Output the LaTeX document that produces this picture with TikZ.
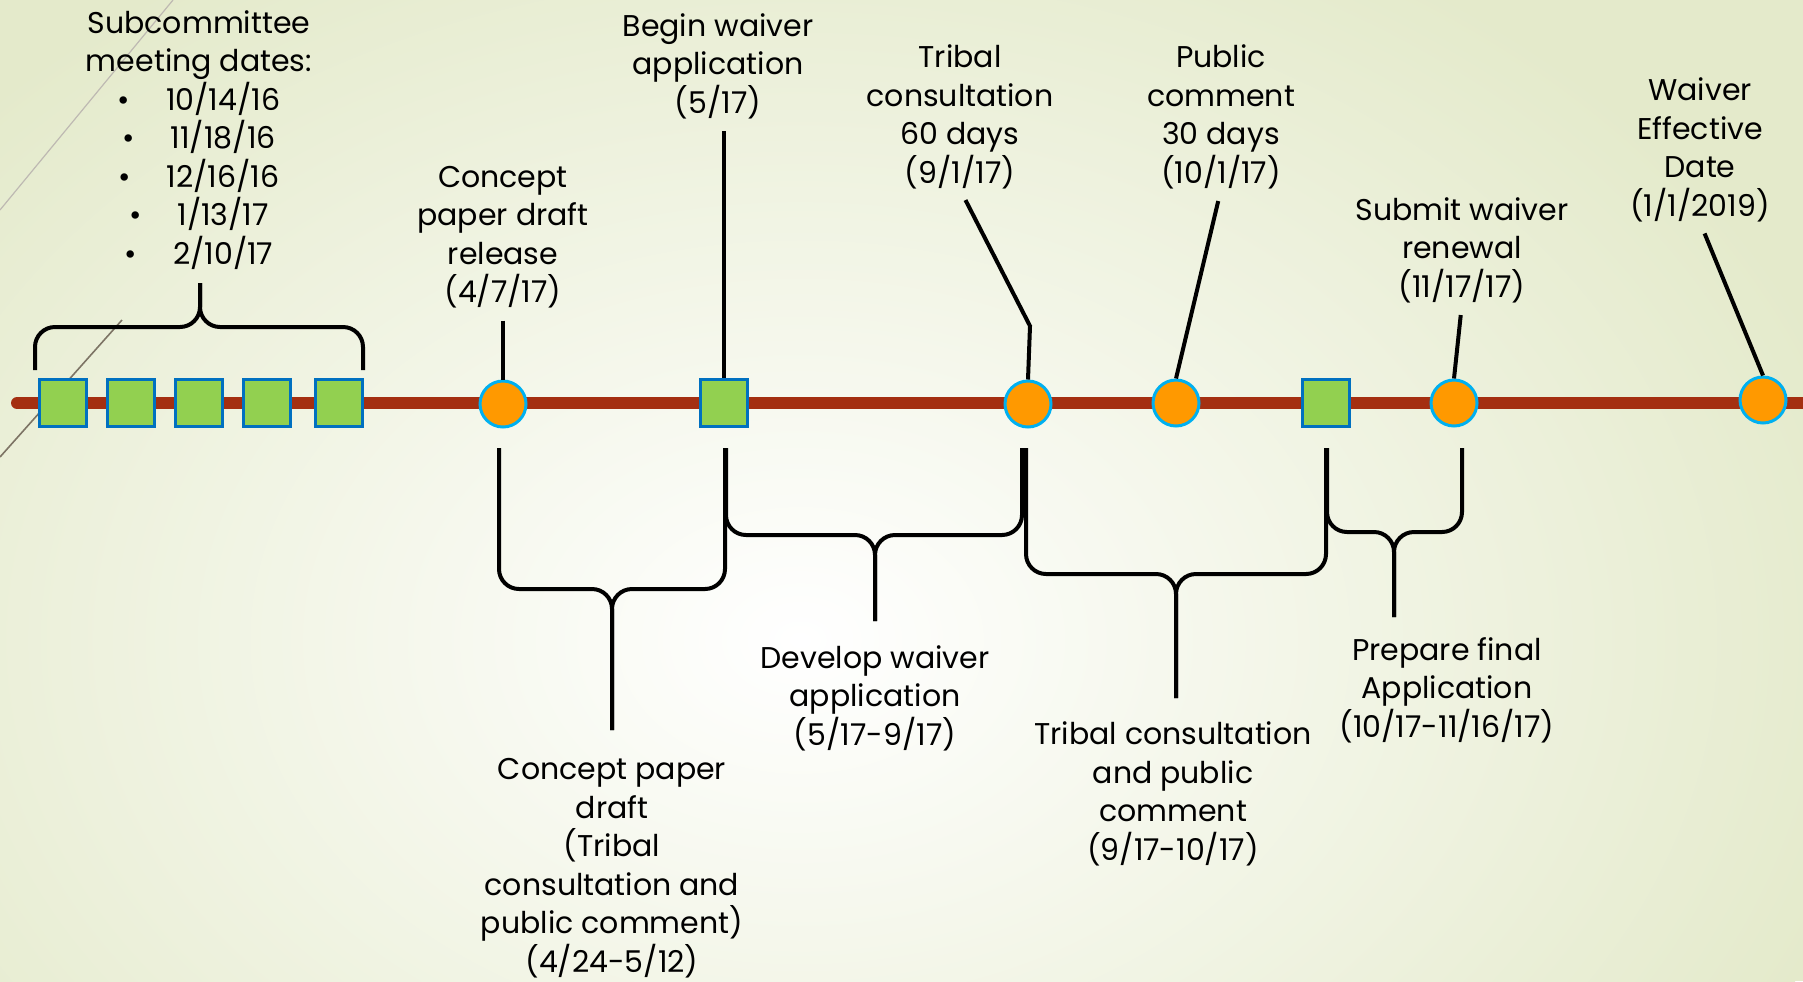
\documentclass[tikz,border=0pt]{standalone}
\usepackage{fontspec}
\setmainfont{Poppins}
\definecolor{bar}{HTML}{A42F11}
\definecolor{leaf}{HTML}{92D050}
\definecolor{leafedge}{HTML}{0070C0}
\definecolor{sun}{HTML}{FF9900}
\definecolor{sunedge}{HTML}{00B0F0}
\definecolor{paper}{HTML}{E4EACB}
\definecolor{streak}{HTML}{7D7465}

\begin{document}
\begin{tikzpicture}[x=0.5pt, y=-0.5pt,
    meet/.style={draw=leafedge, fill=leaf, line width=1.5pt, minimum width=23.5pt, minimum height=23.5pt, inner sep=0pt},
    mile/.style={circle, draw=sunedge, fill=sun, line width=1.5pt, minimum size=23pt, inner sep=0pt},
    lbl/.style={align=center, inner sep=0pt, font=\fontsize{15}{19.25}\selectfont},
    lead/.style={line width=2pt, shorten <=6pt},
    curly/.style={line width=2pt, rounded corners=10pt}]
	\fill [paper] (0, 0) rectangle (1803, 981);
	\begin{scope}
		\clip (0, 0) rectangle (1803, 981);
		\shade [inner color=white, outer color=paper] (800, 640) ellipse [x radius=1100, y radius=800];
	\end{scope}
	\useasboundingbox (0, 0) rectangle (1803, 981);
	\draw [streak!50, line width=0.6pt] (0, 210) -- (173, 0);
	\draw [streak, line width=0.8pt] (0, 457) -- (122, 320);

	% timeline
	\draw [bar, line width=6pt, line cap=round] (17, 403) -- (1803, 403);
	\foreach \x/\n in {63/sA, 131/sB, 199/sC, 267/sD, 339/sE}
		\node [meet] (\n) at (\x, 403) {};
	\node [mile] (cpr) at (503, 404) {};
	\node [meet] (bwa) at (724, 403) {};
	\node [mile] (tcon) at (1028, 404) {};
	\node [mile] (pcom) at (1176, 403) {};
	\node [meet] (prep) at (1326, 403) {};
	\node [mile] (subm) at (1454, 403) {};
	\node [mile] (weff) at (1763, 400) {};

	% labels above
	\node [lbl] (tSub) at (199, 140) {Subcommittee\\meeting dates:\\
		\textbullet\hspace{18pt}10/14/16\\ \textbullet\hspace{18pt}11/18/16\\ \textbullet\hspace{18pt}12/16/16\\
		\textbullet\hspace{18pt}1/13/17\\ \textbullet\hspace{18pt}2/10/17};
	\node [lbl] (tCpr) at (503, 237) {Concept\\paper draft\\release\\(4/7/17)};
	\node [lbl] (tBwa) at (718, 66) {Begin waiver\\application\\(5/17)};
	\node [lbl] (tTcon) at (960, 117) {Tribal\\consultation\\60 days\\(9/1/17)};
	\node [lbl] (tPcom) at (1221, 117) {Public\\comment\\30 days\\(10/1/17)};
	\node [lbl] (tSubm) at (1462, 250) {Submit waiver\\renewal\\(11/17/17)};
	\node [lbl] (tWeff) at (1700, 150) {Waiver\\Effective\\Date\\(1/1/2019)};

	% labels below
	\node [lbl] (tCpd) at (612, 868) {Concept paper\\draft\\(Tribal\\consultation and\\public comment)\\(4/24-5/12)};
	\node [lbl] (tDev) at (875, 698) {Develop waiver\\application\\(5/17-9/17)};
	\node [lbl] (tTpc) at (1173, 794) {Tribal consultation\\and public\\comment\\(9/17-10/17)};
	\node [lbl] (tPrep) at (1447, 690) {Prepare final\\Application\\(10/17-11/16/17)};

	% leaders
	\draw [lead] (cpr.north |- tCpr.south) -- (cpr.north);
	\draw [lead] (bwa.north |- tBwa.south) -- (bwa.north);
	\draw [lead] (tTcon.south) -- (1030, 326) -- (tcon.north);
	\draw [lead] (tPcom.south) -- (pcom.north);
	\draw [lead] (tSubm.south) -- (subm.north);
	\draw [lead] (tWeff.south) -- (weff.north);

	% braces
	\draw [curly] (35, 370) |- (200, 327) -- (200, 283);
	\draw [curly] (363, 370) |- (200, 327) -- (200, 283);
	\draw [curly] (499, 448) |- (612, 589) -- (612, 730);
	\draw [curly] (725, 448) |- (612, 589) -- (612, 730);
	\draw [curly] (726, 448) |- (875, 535) -- (875, 621);
	\draw [curly] (1022, 448) |- (875, 535) -- (875, 621);
	\draw [curly] (1026, 448) |- (1176, 574) -- (1176, 698);
	\draw [curly] (1326, 448) |- (1176, 574) -- (1176, 698);
	\draw [curly] (1327, 448) |- (1394, 532) -- (1394, 617);
	\draw [curly] (1462, 448) |- (1394, 532) -- (1394, 617);
\end{tikzpicture}
\end{document}
